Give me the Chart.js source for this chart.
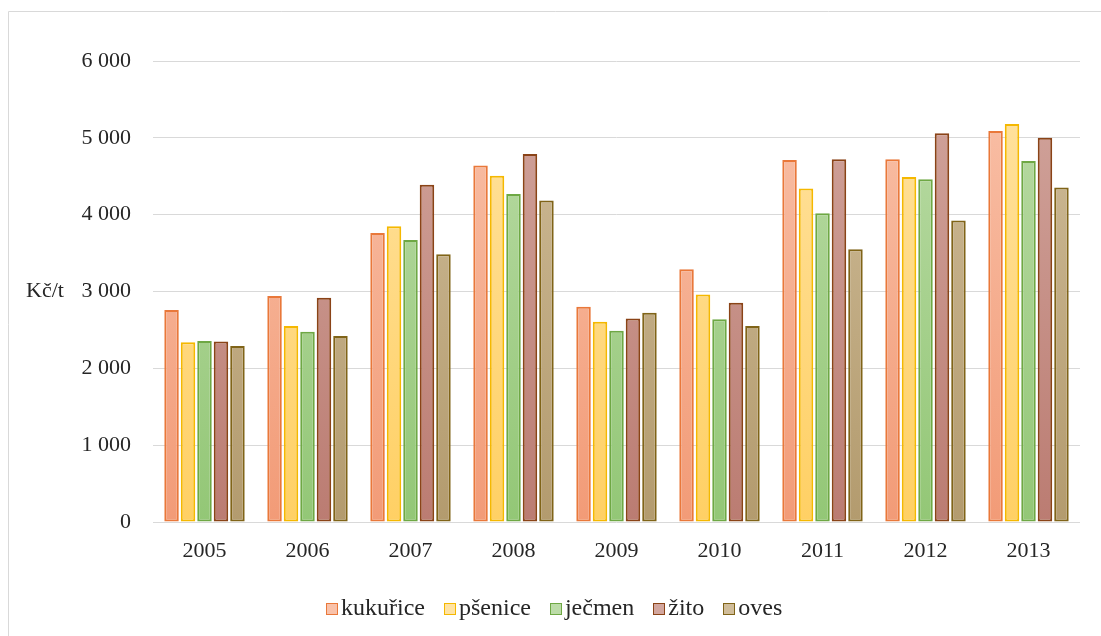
<!DOCTYPE html>
<html>
<head>
<meta charset="utf-8">
<script src="https://cdn.jsdelivr.net/npm/chart.js@4/dist/chart.umd.min.js"></script>
<style>
  html, body { margin: 0; padding: 0; background: #fff; }
  #wrap { position: relative; width: 1101px; height: 636px; overflow: hidden; }
  canvas { display: block; }
  #legend {
    position: absolute; left: 326px; top: 594px;
    display: flex; align-items: center;
    font-family: "Liberation Serif", "Times New Roman", serif;
    font-size: 24px; color: #262626; white-space: nowrap;
  }
  #legend .item { display: flex; align-items: center; margin-right: 19px; }
  #legend .box { width: 10px; height: 10px; border: 1.5px solid; margin-right: 3px; margin-top: 2px; }
</style>
</head>
<body>
<div id="wrap"><canvas id="c" width="1101" height="636"></canvas><div id="legend"></div></div>
<script>
// Ceny obilovin v letech 2005–2013 (Kč/t)
const years = ['2005', '2006', '2007', '2008', '2009', '2010', '2011', '2012', '2013'];
const kukurice = [2760, 2940, 3760, 4640, 2800, 3290, 4710, 4720, 5090];
const psenice  = [2340, 2550, 3850, 4505, 2605, 2960, 4340, 4490, 5180];
const jecmen   = [2355, 2475, 3670, 4270, 2490, 2640, 4020, 4460, 4700];
const zito     = [2350, 2920, 4390, 4790, 2650, 2855, 4720, 5060, 5000];
const oves     = [2290, 2420, 3485, 4185, 2725, 2550, 3550, 3925, 4355];
const yTicks   = [0, 1000, 2000, 3000, 4000, 5000, 6000];
const unitLabel = 'Kč/t';

const FONT = '"Liberation Serif", "Times New Roman", serif';

// fill gradient (top -> bottom) and outline for each series
const styles = [
  { name: 'kukuřice', top: '#F9C2AA', bottom: '#F29B77', line: '#E9783A' },
  { name: 'pšenice',  top: '#FFE3A3', bottom: '#FFD064', line: '#F5B800' },
  { name: 'ječmen',   top: '#BCDCA8', bottom: '#93C776', line: '#6EA844' },
  { name: 'žito',     top: '#D2A69E', bottom: '#BB7C72', line: '#8A4317' },
  { name: 'oves',     top: '#D0BD9A', bottom: '#B39B6E', line: '#806418' }
];
const seriesValues = [kukurice, psenice, jecmen, zito, oves];

function gradientFor(st) {
  return (ctx) => {
    const chart = ctx.chart;
    const area = chart.chartArea;
    if (!area) return st.bottom;
    const y0 = chart.scales.y.getPixelForValue(6000);
    const g = chart.ctx.createLinearGradient(0, y0, 0, area.bottom);
    g.addColorStop(0, st.top);
    g.addColorStop(1, st.bottom);
    return g;
  };
}

const datasets = styles.map((st, i) => ({
  label: st.name,
  data: seriesValues[i],
  backgroundColor: gradientFor(st),
  borderColor: st.line,
  borderWidth: 2,
  borderSkipped: false,
  categoryPercentage: 0.8,
  barPercentage: 0.88
}));

const fmt = (v) => String(v).replace(/\B(?=(\d{3})+(?!\d))/g, ' ');

// frame around the whole figure and the unit label beside the value axis
const decorations = {
  id: 'decorations',
  beforeDraw(chart) {
    const c = chart.ctx;
    c.save();
    c.strokeStyle = '#D9D9D9';
    c.lineWidth = 1;
    c.beginPath();
    c.moveTo(8.5, 640);
    c.lineTo(8.5, 11.5);
    c.lineTo(1105, 11.5);
    c.stroke();
    c.restore();
  },
  afterDraw(chart) {
    const c = chart.ctx;
    c.save();
    c.font = '22px ' + FONT;
    c.fillStyle = '#262626';
    c.textAlign = 'left';
    c.textBaseline = 'middle';
    c.fillText(unitLabel, 26, chart.scales.y.getPixelForValue(3000));
    c.restore();
  }
};

const chart = new Chart(document.getElementById('c'), {
  type: 'bar',
  data: { labels: years, datasets },
  options: {
    responsive: false,
    animation: false,
    layout: { padding: { left: 0, right: 21, top: 61, bottom: 64 } },
    plugins: {
      legend: { display: false },
      tooltip: { enabled: false }
    },
    scales: {
      x: {
        grid: { display: false, drawTicks: false },
        border: { display: false },
        ticks: { font: { family: FONT, size: 22 }, color: '#262626', padding: 16 },
        afterFit(scale) { scale.height = 50; }
      },
      y: {
        min: 0,
        max: 6000,
        afterBuildTicks(scale) { scale.ticks = yTicks.map(v => ({ value: v })); },
        grid: { color: '#D9D9D9', lineWidth: 1, drawTicks: false },
        border: { display: false },
        ticks: {
          font: { family: FONT, size: 22 },
          color: '#262626',
          padding: 22,
          callback: (v) => fmt(v)
        },
        afterFit(scale) { scale.width = 153; }
      }
    }
  },
  plugins: [decorations]
});

// legend built from the datasets
const legendEl = document.getElementById('legend');
chart.data.datasets.forEach((ds, i) => {
  const item = document.createElement('span');
  item.className = 'item';
  const box = document.createElement('span');
  box.className = 'box';
  box.style.background = styles[i].top;
  box.style.borderColor = ds.borderColor;
  const txt = document.createElement('span');
  txt.textContent = ds.label;
  item.appendChild(box);
  item.appendChild(txt);
  legendEl.appendChild(item);
});
</script>
</body>
</html>
